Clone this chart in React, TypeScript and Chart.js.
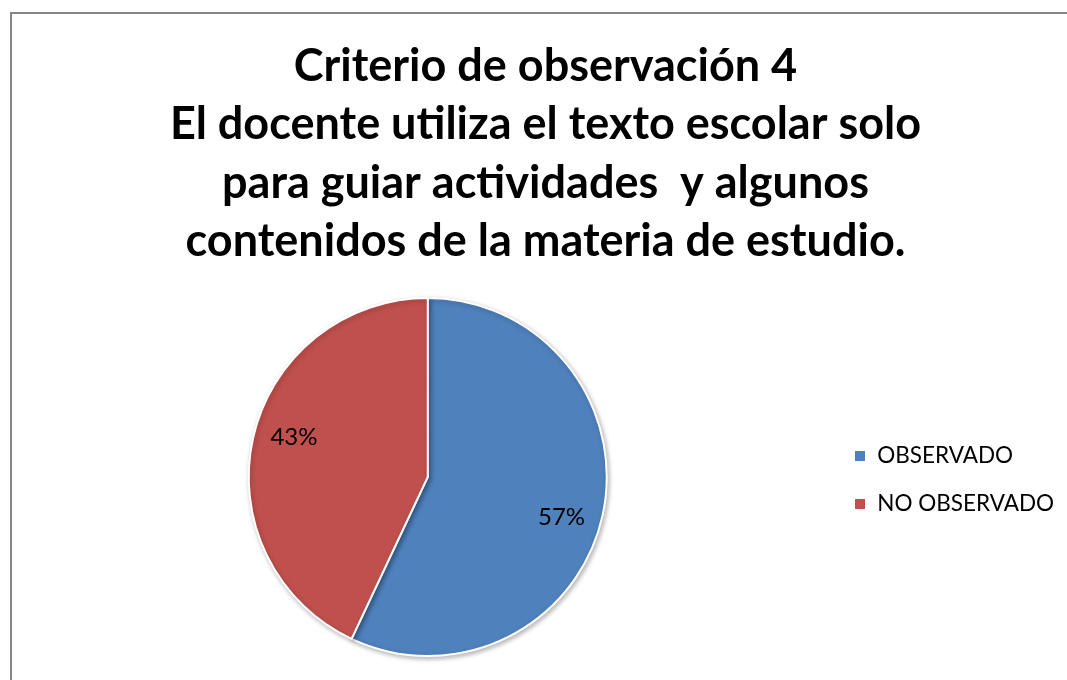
import React, { useEffect, useRef } from "react";
import { Chart, registerables } from "chart.js";

Chart.register(...registerables);

const titleLines = [
  "Criterio de observación 4",
  "El docente utiliza el texto escolar solo",
  "para guiar actividades  y algunos",
  "contenidos de la materia de estudio.",
];
const categories = ["OBSERVADO", "NO OBSERVADO"];
const values = [57, 43];
const sliceColors = ["#4F81BD", "#C0504D"];

const FONT = "Lato, 'Open Sans', 'Liberation Sans', sans-serif";

const shadowPlugin = {
  id: "sliceShadow",
  beforeDatasetsDraw(chart: any) {
    const ctx = chart.ctx;
    ctx.save();
    ctx.shadowColor = "rgba(0,0,0,0.28)";
    ctx.shadowBlur = 5;
    ctx.shadowOffsetX = 1.5;
    ctx.shadowOffsetY = 2;
  },
  afterDatasetsDraw(chart: any) {
    chart.ctx.restore();
  },
};

const pctLabelPlugin = {
  id: "pctLabels",
  afterDatasetsDraw(chart: any) {
    const ctx = chart.ctx;
    const meta = chart.getDatasetMeta(0);
    const data = chart.data.datasets[0].data as number[];
    const total = data.reduce((a, b) => a + b, 0);
    ctx.save();
    ctx.fillStyle = "#000";
    ctx.font = `24px ${FONT}`;
    ctx.textAlign = "center";
    ctx.textBaseline = "middle";
    meta.data.forEach((arc: any, i: number) => {
      const { x, y, startAngle, endAngle, outerRadius } = arc.getProps(
        ["x", "y", "startAngle", "endAngle", "outerRadius"],
        true
      );
      const mid = (startAngle + endAngle) / 2 + 0.07;
      const r = outerRadius * 0.78;
      const pct = Math.round((data[i] / total) * 100);
      ctx.fillText(`${pct}%`, x + Math.cos(mid) * r, y + Math.sin(mid) * r);
    });
    ctx.restore();
  },
};

export default function App() {
  const canvasRef = useRef<HTMLCanvasElement | null>(null);

  useEffect(() => {
    const canvas = canvasRef.current;
    if (!canvas) return;
    const chart = new Chart(canvas, {
      type: "pie",
      data: {
        labels: categories,
        datasets: [
          {
            data: values,
            backgroundColor: sliceColors,
            borderColor: "#ffffff",
            borderWidth: 2,
            hoverOffset: 0,
          },
        ],
      },
      options: {
        responsive: false,
        animation: false,
        layout: { padding: { left: 27, right: 3, top: 0, bottom: 23 } },
        plugins: {
          title: {
            display: true,
            text: titleLines,
            color: "#000",
            font: { family: FONT, size: 45, weight: "bold", lineHeight: 1.3 },
            padding: { top: 37, bottom: 26 },
          },
          legend: {
            display: true,
            position: "right",
            align: "center",
            title: {
              display: true,
              text: "",
              font: { size: 1, lineHeight: 1 },
              padding: { top: 302, bottom: 0 },
            },
            labels: {
              color: "#000",
              font: { family: FONT, size: 22.5 },
              boxWidth: 12,
              boxHeight: 12,
              padding: 25.5,
            },
          },
          tooltip: { enabled: false },
        },
      },
      plugins: [shadowPlugin, pctLabelPlugin],
    });
    return () => chart.destroy();
  }, []);

  return (
    <div
      style={{
        position: "fixed",
        left: 0,
        top: 0,
        width: 1067,
        height: 680,
        overflow: "hidden",
        background: "#fff",
      }}
    >
      <div
        style={{
          position: "absolute",
          left: 10,
          top: 12,
          width: 1100,
          height: 720,
          border: "2px solid #878787",
          boxSizing: "border-box",
        }}
      />
      <canvas
        ref={canvasRef}
        width={1067}
        height={680}
        style={{ position: "absolute", left: 0, top: 0, width: 1067, height: 680 }}
      />
    </div>
  );
}
